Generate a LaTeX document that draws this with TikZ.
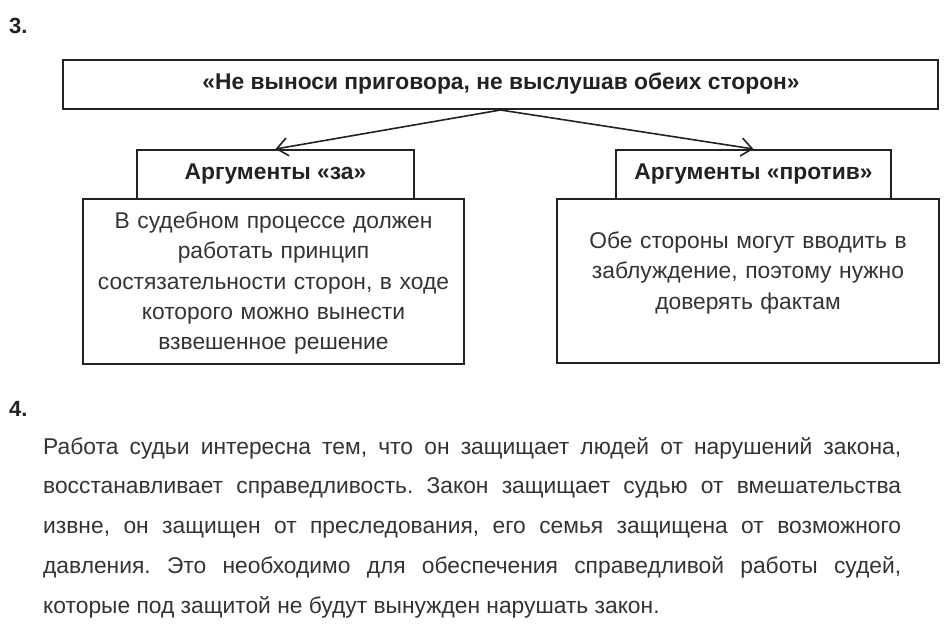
\documentclass[tikz,border=0pt]{standalone}
\usepackage{fontspec}
\setmainfont{Liberation Sans}
\usetikzlibrary{arrows.meta}
\definecolor{txt}{RGB}{51,51,51}
\definecolor{ink}{RGB}{34,34,34}
\tikzset{
  box/.style={draw=ink, line width=2pt, inner sep=0pt},
  head/.style={font=\bfseries\fontsize{22.8}{26}\selectfont, text=ink, inner sep=0pt},
  body/.style={font=\fontsize{22.8}{30.25}\selectfont, text=txt, align=center, inner sep=0pt},
  num/.style={font=\bfseries\fontsize{22}{24}\selectfont, text=ink, inner sep=0pt, anchor=base west},
  conn/.style={draw=ink, line width=1.6pt, -{Straight Barb[length=11pt,width=18pt,line width=1.6pt]}}
}
\begin{document}
\frenchspacing
\begin{tikzpicture}[x=1pt,y=-1pt]
\useasboundingbox (0,0) rectangle (950,635);
% numbers
\node[num] (n3) at (9,33) {3.};
\node[num] (n4) at (9,416) {4.};
% boxes
\node[box, minimum width=875pt, minimum height=49pt] (title) at (500.5,84.5) {};
\node[head, anchor=base] (titletext) at (501,89) {«Не выноси приговора, не выслушав обеих сторон»};
\node[box, minimum width=277pt, minimum height=49pt] (za) at (275.5,174.5) {};
\node[head, anchor=base] (zahead) at (275.5,179) {Аргументы «за»};
\node[box, minimum width=275pt, minimum height=49pt] (protiv) at (753.5,174.5) {};
\node[head, anchor=base] (protivhead) at (753.5,179) {Аргументы «против»};
\node[box, minimum width=381pt, minimum height=165pt] (zabox) at (273.5,281.5) {};
\node[body, anchor=base, text width=375pt] (zatext) at (273.5,228.5) {В судебном процессе должен\\работать принцип\\состязательности сторон, в ходе\\которого можно вынести\\взвешенное решение};
\node[box, minimum width=382pt, minimum height=164pt] (protivbox) at (748,281) {};
\node[body, anchor=base, text width=375pt] (protivtext) at (748,248.5) {Обе стороны могут вводить в\\заблуждение, поэтому нужно\\доверять фактам};
% connectors
\draw[conn] (title.south) -- (za.north);
\draw[conn] (title.south) -- (protiv.north);
% paragraph
\node[anchor=base west, text width=858pt, align=justify, inner sep=0pt, text=txt,
      font=\fontsize{22.8}{39.75}\selectfont] (para) at (43,454)
{Работа судьи интересна тем, что он защищает людей от нарушений закона,\linebreak
восстанавливает справедливость. Закон защищает судью от вмешательства\linebreak
извне, он защищен от преследования, его семья защищена от возможного\linebreak
давления. Это необходимо для обеспечения справедливой работы судей,\linebreak
которые под защитой не будут вынужден нарушать закон.};
\end{tikzpicture}
\end{document}
